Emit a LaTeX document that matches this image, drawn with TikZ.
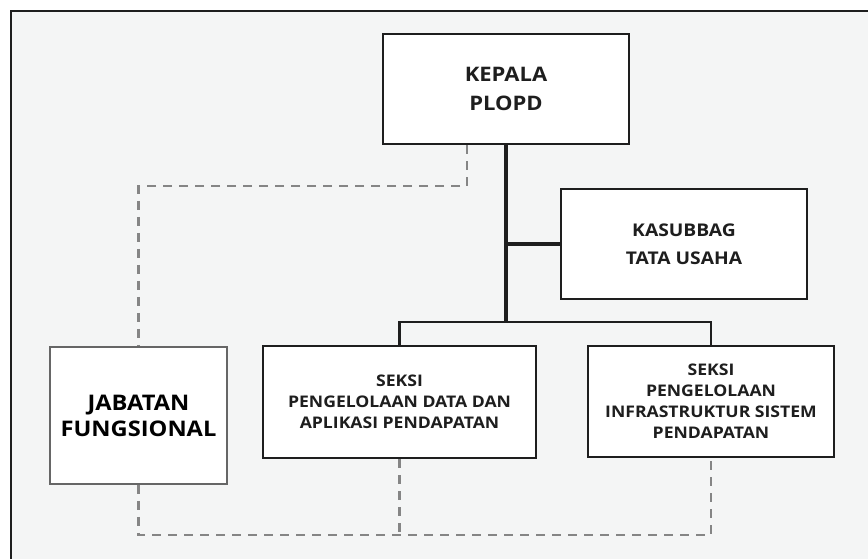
\documentclass[tikz,border=0pt]{standalone}
\usepackage{fontspec}
\setmainfont{Open Sans}[FakeStretch=1.1]
\usepackage{xcolor}
\usepackage{tikz}
\usetikzlibrary{positioning}
\definecolor{paper}{HTML}{F4F5F5}
\definecolor{ink}{HTML}{1E1E1E}
\definecolor{dashgray}{HTML}{858585}

\begin{document}
\begin{tikzpicture}[
  x=1pt, y=1pt,
  box/.style={draw=ink, fill=white, line width=2.8pt, align=center, inner sep=0pt, text=ink, font=\bfseries},
  toptext/.style={font=\fontsize{17.5}{28}\selectfont\bfseries},
  lowtext/.style={font=\fontsize{16}{21}\selectfont\bfseries},
  link/.style={draw=ink, line width=2.8pt},
  dashlink/.style={draw=dashgray, line width=2.2pt, dash pattern=on 9pt off 7pt}
]
\useasboundingbox (0,0) rectangle (868,-559);
\fill[paper] (11,-11) rectangle (868,-559);
\draw[ink, line width=2.6pt] (11,-559) -- (11,-11) -- (868,-11);

\node[box, minimum width=246pt, minimum height=110pt, font=\fontsize{20}{29}\selectfont\bfseries]
  (kepala) at (506,-89) {KEPALA\\PLOPD};
\node[box, toptext, minimum width=246pt, minimum height=110pt] (kasubbag) at (684,-244) {KASUBBAG\\TATA USAHA};
\node[box, lowtext, minimum width=273pt, minimum height=112pt] (seksidata) at (399.5,-402) {SEKSI\\PENGELOLAAN DATA DAN\\APLIKASI PENDAPATAN};
\node[box, lowtext, minimum width=246pt, minimum height=111pt] (seksiinfra) at (711,-401.5) {SEKSI\\PENGELOLAAN\\INFRASTRUKTUR SISTEM\\PENDAPATAN};
\node[box, draw=gray!80!black, line width=1.6pt, minimum width=177pt, minimum height=137pt,
  font=\fontsize{21.5}{26}\selectfont\bfseries, text=black] (jabatan) at (138.5,-415.5) {JABATAN\\FUNGSIONAL};

\coordinate (split) at (kepala.south |- 0,-322);
\coordinate (bus) at (0,-535);

\draw[link, line width=4pt] (kepala.south) -- (split);
\draw[link, line width=3.4pt] (kepala.south |- kasubbag.west) -- (kasubbag.west);
\draw[link] (seksidata.north) |- (split) -| (seksiinfra.north);

\draw[dashlink] ([xshift=-39pt]kepala.south) -- ++(0,-41) -| (jabatan.north);
\draw[dashlink] (jabatan.south) |- (bus -| seksiinfra.south) -- (seksiinfra.south);
\draw[dashlink] (seksidata.south) -- (seksidata.south |- bus);
\end{tikzpicture}
\end{document}
